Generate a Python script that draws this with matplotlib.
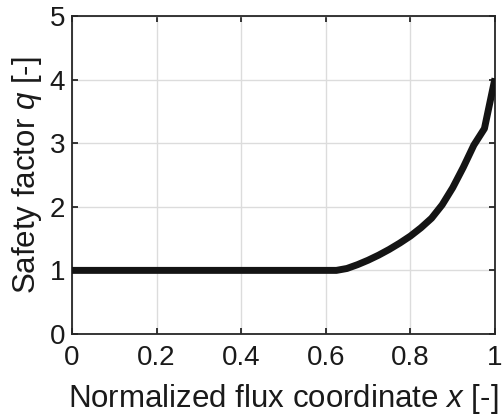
import numpy as np
import matplotlib
matplotlib.use('Agg')
import matplotlib.pyplot as plt

# safety factor profile
x_norm = [0.0, 0.1, 0.2, 0.3, 0.4, 0.5, 0.6, 0.625, 0.65, 0.675, 0.7, 0.725, 0.75, 0.775,
          0.8, 0.825, 0.85, 0.875, 0.9, 0.925, 0.95, 0.975, 1.0]
q_vals = [1.0, 1.0, 1.0, 1.0, 1.0, 1.0, 1.0, 1.0, 1.03, 1.09, 1.16, 1.24, 1.33, 1.43,
          1.54, 1.67, 1.82, 2.03, 2.3, 2.62, 2.97, 3.23, 4.02]

xticks = [0, 0.2, 0.4, 0.6, 0.8, 1]
xticklabels = ['0', '0.2', '0.4', '0.6', '0.8', '1']
yticks = [0, 1, 2, 3, 4, 5]

plt.rcParams['font.family'] = ['Liberation Sans', 'DejaVu Sans']
plt.rcParams['mathtext.fontset'] = 'custom'
plt.rcParams['mathtext.rm'] = 'Liberation Sans'
plt.rcParams['mathtext.it'] = 'Liberation Sans:italic'

fig = plt.figure(figsize=(5.03, 4.18), dpi=100)
ax = fig.add_axes([0.1431, 0.201, 0.8410, 0.7607])

ax.plot(x_norm, q_vals, color='#141414', lw=5, solid_capstyle='butt', solid_joinstyle='round', zorder=3)

ax.set_xlim(0, 1)
ax.set_ylim(0, 5)
ax.set_xticks(xticks)
ax.set_xticklabels(xticklabels)
ax.set_yticks(yticks)
ax.grid(True, color='#dcdcdc', lw=1.0)
ax.set_axisbelow(True)

for s in ax.spines.values():
    s.set_color('#262626')
    s.set_linewidth(1.3)
ax.tick_params(direction='in', length=4, width=1.3, colors='#262626', labelsize=20,
               top=True, right=True, labelcolor='#1a1a1a')
ax.tick_params(axis='x', pad=8)
ax.tick_params(axis='y', pad=5)

ax.set_xlabel('Normalized flux coordinate $x$ [-]', fontsize=22.5, color='#1a1a1a', labelpad=8)
ax.set_ylabel('Safety factor $q$ [-]', fontsize=22.5, color='#1a1a1a', labelpad=4)

plt.savefig('out.png', dpi=100)
